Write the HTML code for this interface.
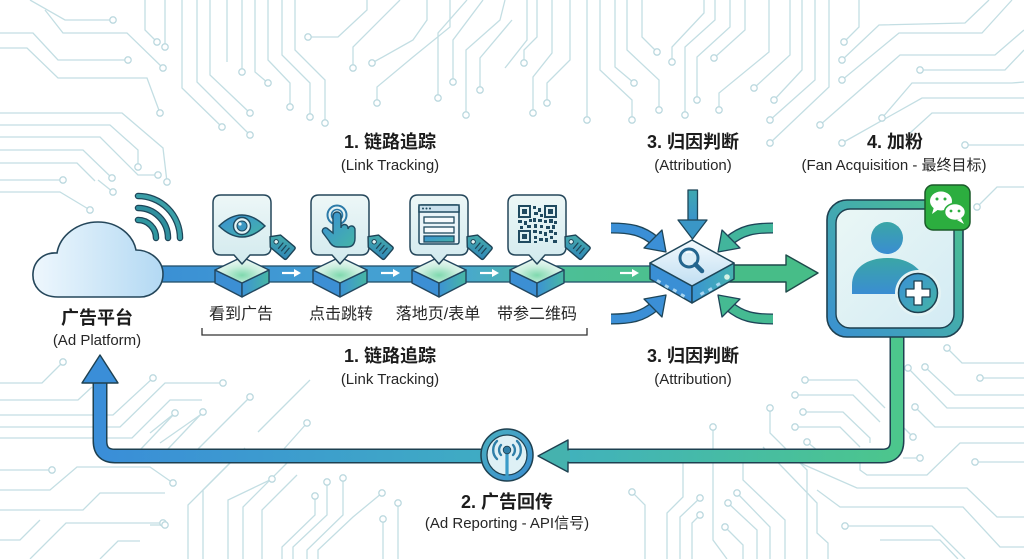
<!DOCTYPE html>
<html><head><meta charset="utf-8"><style>
html,body{margin:0;padding:0;background:#fff;}
svg{display:block;}
text{font-family:"Liberation Sans","Noto Sans CJK SC",sans-serif;fill:#1c1c1c;}
.b{font-weight:bold;font-size:18px;}
.s{font-size:15px;fill:#262626;}
.l{font-size:16px;fill:#262626;}
.tr polyline{fill:none;stroke:#c3dee3;stroke-width:1.3;}
.tc circle{fill:#fff;stroke:#bcd9df;stroke-width:1.3;}
</style></head><body>
<svg width="1024" height="559" viewBox="0 0 1024 559" xmlns="http://www.w3.org/2000/svg">
<defs>
<linearGradient id="pipeG" gradientUnits="userSpaceOnUse" x1="150" y1="0" x2="660" y2="0">
<stop offset="0" stop-color="#3a8fd4"/><stop offset="0.6" stop-color="#48a6d2"/><stop offset="0.82" stop-color="#4cbf96"/><stop offset="1" stop-color="#4cc08e"/></linearGradient>
<linearGradient id="retG" gradientUnits="userSpaceOnUse" x1="100" y1="0" x2="900" y2="0">
<stop offset="0" stop-color="#3a8ed8"/><stop offset="0.55" stop-color="#40b0c0"/><stop offset="1" stop-color="#4cc68c"/></linearGradient>
<linearGradient id="cloudG" x1="0" y1="0" x2="1" y2="0"><stop offset="0" stop-color="#eef7fd"/><stop offset="1" stop-color="#b3d9f3"/></linearGradient>
<linearGradient id="cardG" x1="0" y1="0" x2="0" y2="1"><stop offset="0" stop-color="#edf7f7"/><stop offset="1" stop-color="#d2eaee"/></linearGradient>
<radialGradient id="hexTop" cx="0.5" cy="0.7" r="0.6"><stop offset="0" stop-color="#7fd9ae"/><stop offset="0.55" stop-color="#c9eedd"/><stop offset="1" stop-color="#eef8f5"/></radialGradient>
<linearGradient id="hexR" x1="0" y1="0" x2="1" y2="0"><stop offset="0" stop-color="#3c92d4"/><stop offset="1" stop-color="#48b7a4"/></linearGradient>
<linearGradient id="tagG" x1="0" y1="0" x2="1" y2="1"><stop offset="0" stop-color="#49b0a8"/><stop offset="1" stop-color="#2f86b8"/></linearGradient>
<linearGradient id="blueTeal" x1="0" y1="0" x2="1" y2="1"><stop offset="0" stop-color="#3a8fd6"/><stop offset="1" stop-color="#45b5a6"/></linearGradient>
<linearGradient id="cubeTop" x1="0" y1="0" x2="0" y2="1"><stop offset="0" stop-color="#f4fafd"/><stop offset="1" stop-color="#c0def2"/></linearGradient>
<linearGradient id="cubeR" x1="0" y1="0" x2="1" y2="0"><stop offset="0" stop-color="#3a94d2"/><stop offset="1" stop-color="#46b3b0"/></linearGradient>
<linearGradient id="topArr" x1="0" y1="0" x2="0" y2="1"><stop offset="0" stop-color="#3fa8b0"/><stop offset="1" stop-color="#3a92cc"/></linearGradient>
<linearGradient id="fanB" x1="0" y1="1" x2="1" y2="0"><stop offset="0" stop-color="#3a90d2"/><stop offset="1" stop-color="#4cc38c"/></linearGradient>
<linearGradient id="fanIn" x1="0" y1="0" x2="1" y2="1"><stop offset="0" stop-color="#eaf7f5"/><stop offset="1" stop-color="#d3ebf4"/></linearGradient>
<linearGradient id="person" x1="0" y1="0" x2="0" y2="1"><stop offset="0" stop-color="#3aa6a6"/><stop offset="1" stop-color="#3a8dd2"/></linearGradient>
<linearGradient id="antG" x1="0" y1="0" x2="1" y2="1"><stop offset="0" stop-color="#4ab0c0"/><stop offset="1" stop-color="#3a8cd0"/></linearGradient>
</defs>
<rect width="1024" height="559" fill="#fff"/>

<!-- circuit traces -->
<g class="tr">
<polyline points="30,0 65,20 113,20"/>
<polyline points="0,33 33,33 58,60 128,60"/>
<polyline points="45,10 63,33 127,33 163,68"/>
<polyline points="0,48 27,48 58,78 147,78 160,113"/>
<polyline points="0,113 122,113 163,148 167,182"/>
<polyline points="0,125 110,125 138,150 138,167"/>
<polyline points="0,137 100,137 138,175 158,175"/>
<polyline points="0,150 83,150 112,178"/>
<polyline points="0,163 77,163 95,181"/>
<polyline points="0,180 63,180"/>
<polyline points="0,192 60,192 90,210"/>
<polyline points="98,180 113,192"/>
<polyline points="145,0 145,30 157,42"/>
<polyline points="165,0 165,47"/>
<polyline points="182,0 182,88 222,127"/>
<polyline points="197,0 197,82 250,135"/>
<polyline points="210,0 210,75 250,113"/>
<polyline points="227,0 227,62"/>
<polyline points="242,0 242,72"/>
<polyline points="255,0 255,72 268,83"/>
<polyline points="268,0 268,60 290,83 290,107"/>
<polyline points="282,0 282,55 310,83 310,117"/>
<polyline points="295,0 295,50 325,80 325,123"/>
<polyline points="367,0 367,10 338,37 308,37"/>
<polyline points="400,0 353,47 353,68"/>
<polyline points="427,0 427,20 413,40 372,63"/>
<polyline points="450,0 450,27 413,57 377,87 377,103"/>
<polyline points="467,0 438,33 438,98"/>
<polyline points="483,0 453,40 453,82"/>
<polyline points="505,0 500,20 466,50 466,115"/>
<polyline points="512,20 480,58 480,90"/>
<polyline points="505,68 527,40 527,0"/>
<polyline points="537,0 537,37 524,50 524,63"/>
<polyline points="552,0 552,53 533,77 533,113"/>
<polyline points="570,0 570,60 547,83 547,103"/>
<polyline points="587,0 587,120"/>
<polyline points="600,0 600,70 632,100 632,120"/>
<polyline points="615,0 615,67 634,83"/>
<polyline points="627,0 627,50 659,80 659,110"/>
<polyline points="642,0 642,37 657,52"/>
<polyline points="704,0 704,13 672,47 672,62"/>
<polyline points="715,0 715,20 685,47 685,115"/>
<polyline points="730,0 730,27 697,57 697,100"/>
<polyline points="745,0 745,30 714,58"/>
<polyline points="769,0 769,52 719,93 719,110"/>
<polyline points="790,0 790,55 754,88"/>
<polyline points="802,0 802,70 774,100"/>
<polyline points="815,0 815,80 770,120"/>
<polyline points="829,0 829,87 770,143"/>
<polyline points="859,0 859,27 844,42"/>
<polyline points="989,0 965,23 879,25 842,60"/>
<polyline points="1012,0 982,33 899,33 842,80"/>
<polyline points="1024,30 995,55 900,55 820,125"/>
<polyline points="920,70 1005,70 1024,50"/>
<polyline points="1024,82 1012,83 912,83 882,118"/>
<polyline points="1024,98 922,98 842,143"/>
<polyline points="1024,113 932,113 910,133"/>
<polyline points="965,145 1024,145"/>
<polyline points="977,207 997,187 1024,187"/>
<polyline points="947,348 962,363 1024,363"/>
<polyline points="980,378 1024,378"/>
<polyline points="925,367 955,395 1024,395"/>
<polyline points="908,368 947,408 1024,408"/>
<polyline points="915,407 935,427 1024,427"/>
<polyline points="913,437 893,417"/>
<polyline points="920,458 903,458"/>
<polyline points="975,462 1024,462"/>
<polyline points="860,463 860,470 867,475 927,475 960,443 1024,443"/>
<polyline points="800,463 857,488 967,488 997,517 1024,517"/>
<polyline points="817,490 840,507 963,507 1000,547 1024,547"/>
<polyline points="845,526 932,526 965,559"/>
<polyline points="880,540 940,540 958,559"/>
<polyline points="795,395 853,395 880,422"/>
<polyline points="803,412 843,412 870,438 870,443"/>
<polyline points="795,427 840,427 860,447"/>
<polyline points="807,442 817,450"/>
<polyline points="805,380 857,380 885,408"/>
<polyline points="713,427 713,540 727,559"/>
<polyline points="632,492 645,505 645,559"/>
<polyline points="700,498 680,517 680,559"/>
<polyline points="683,463 683,497 667,513 667,559"/>
<polyline points="700,515 692,523 692,559"/>
<polyline points="770,408 770,433 807,470 807,559"/>
<polyline points="743,463 743,480 785,520 785,559"/>
<polyline points="728,503 757,530 757,559"/>
<polyline points="737,493 770,527 770,559"/>
<polyline points="725,527 743,545 743,559"/>
<polyline points="763,447 817,503 817,533 828,543 828,559"/>
<polyline points="63,362 42,383 0,383"/>
<polyline points="0,400 78,400 92,387"/>
<polyline points="0,415 113,415 153,378"/>
<polyline points="0,427 120,427 165,383 223,383"/>
<polyline points="0,438 132,438 170,400 202,400"/>
<polyline points="140,450 175,413"/>
<polyline points="167,450 203,412"/>
<polyline points="197,450 250,397"/>
<polyline points="283,450 307,423"/>
<polyline points="0,470 52,470"/>
<polyline points="0,490 50,490 77,467 150,467 173,483"/>
<polyline points="0,510 83,510 100,493 165,493"/>
<polyline points="30,559 66,523 163,523"/>
<polyline points="0,540 20,540 40,520"/>
<polyline points="100,559 118,541 140,541"/>
<polyline points="150,525 165,525"/>
<polyline points="188,559 188,505 230,463"/>
<polyline points="203,559 203,490 245,448"/>
<polyline points="228,559 228,500 272,479"/>
<polyline points="243,559 243,507 287,463"/>
<polyline points="262,559 262,510 297,475"/>
<polyline points="282,559 282,547 315,515 315,496"/>
<polyline points="293,559 293,547 327,515 327,482"/>
<polyline points="307,559 307,550 343,515 343,478"/>
<polyline points="318,559 318,550 353,517 382,493"/>
<polyline points="383,519 383,559"/>
<polyline points="398,503 398,559"/>
<polyline points="150,433 175,413"/>
<polyline points="160,443 203,413"/>
<polyline points="258,432 310,380"/>
</g>
<g class="tc">
<circle cx="113" cy="20" r="3.2"/><circle cx="128" cy="60" r="3.2"/><circle cx="163" cy="68" r="3.2"/><circle cx="160" cy="113" r="3.2"/><circle cx="167" cy="182" r="3.2"/><circle cx="138" cy="167" r="3.2"/><circle cx="158" cy="175" r="3.2"/><circle cx="112" cy="178" r="3.2"/><circle cx="63" cy="180" r="3.2"/><circle cx="90" cy="210" r="3.2"/><circle cx="113" cy="192" r="3.2"/>
<circle cx="157" cy="42" r="3.2"/><circle cx="165" cy="47" r="3.2"/><circle cx="222" cy="127" r="3.2"/><circle cx="250" cy="135" r="3.2"/><circle cx="250" cy="113" r="3.2"/><circle cx="242" cy="72" r="3.2"/><circle cx="268" cy="83" r="3.2"/><circle cx="290" cy="107" r="3.2"/><circle cx="310" cy="117" r="3.2"/><circle cx="325" cy="123" r="3.2"/><circle cx="308" cy="37" r="3.2"/><circle cx="353" cy="68" r="3.2"/><circle cx="372" cy="63" r="3.2"/><circle cx="377" cy="103" r="3.2"/><circle cx="438" cy="98" r="3.2"/><circle cx="453" cy="82" r="3.2"/><circle cx="466" cy="115" r="3.2"/><circle cx="480" cy="90" r="3.2"/>
<circle cx="524" cy="63" r="3.2"/><circle cx="533" cy="113" r="3.2"/><circle cx="547" cy="103" r="3.2"/><circle cx="587" cy="120" r="3.2"/><circle cx="632" cy="120" r="3.2"/><circle cx="634" cy="83" r="3.2"/><circle cx="659" cy="110" r="3.2"/><circle cx="657" cy="52" r="3.2"/><circle cx="672" cy="62" r="3.2"/><circle cx="685" cy="115" r="3.2"/><circle cx="697" cy="100" r="3.2"/><circle cx="714" cy="58" r="3.2"/><circle cx="719" cy="110" r="3.2"/><circle cx="754" cy="88" r="3.2"/><circle cx="774" cy="100" r="3.2"/><circle cx="770" cy="120" r="3.2"/><circle cx="770" cy="143" r="3.2"/><circle cx="844" cy="42" r="3.2"/><circle cx="842" cy="60" r="3.2"/><circle cx="842" cy="80" r="3.2"/><circle cx="820" cy="125" r="3.2"/><circle cx="920" cy="70" r="3.2"/><circle cx="882" cy="118" r="3.2"/><circle cx="842" cy="143" r="3.2"/><circle cx="965" cy="145" r="3.2"/>
<circle cx="977" cy="207" r="3.2"/><circle cx="947" cy="348" r="3.2"/><circle cx="980" cy="378" r="3.2"/><circle cx="925" cy="367" r="3.2"/><circle cx="908" cy="368" r="3.2"/><circle cx="915" cy="407" r="3.2"/><circle cx="913" cy="437" r="3.2"/><circle cx="920" cy="458" r="3.2"/><circle cx="975" cy="462" r="3.2"/><circle cx="845" cy="526" r="3.2"/><circle cx="795" cy="395" r="3.2"/><circle cx="803" cy="412" r="3.2"/><circle cx="795" cy="427" r="3.2"/><circle cx="807" cy="442" r="3.2"/><circle cx="805" cy="380" r="3.2"/>
<circle cx="713" cy="427" r="3.2"/><circle cx="632" cy="492" r="3.2"/><circle cx="700" cy="498" r="3.2"/><circle cx="700" cy="515" r="3.2"/><circle cx="770" cy="408" r="3.2"/><circle cx="728" cy="503" r="3.2"/><circle cx="737" cy="493" r="3.2"/><circle cx="725" cy="527" r="3.2"/>
<circle cx="63" cy="362" r="3.2"/><circle cx="153" cy="378" r="3.2"/><circle cx="223" cy="383" r="3.2"/><circle cx="175" cy="413" r="3.2"/><circle cx="203" cy="412" r="3.2"/><circle cx="250" cy="397" r="3.2"/><circle cx="307" cy="423" r="3.2"/><circle cx="52" cy="470" r="3.2"/><circle cx="173" cy="483" r="3.2"/><circle cx="163" cy="523" r="3.2"/><circle cx="165" cy="525" r="3.2"/><circle cx="272" cy="479" r="3.2"/><circle cx="315" cy="496" r="3.2"/><circle cx="327" cy="482" r="3.2"/><circle cx="343" cy="478" r="3.2"/><circle cx="382" cy="493" r="3.2"/><circle cx="383" cy="519" r="3.2"/><circle cx="398" cy="503" r="3.2"/>
</g>

<!-- main pipe -->
<rect x="150" y="266" width="512" height="16" fill="url(#pipeG)" stroke="#24506a" stroke-width="1.3"/>

<!-- white arrows on pipe -->
<g stroke="#fff" stroke-width="2.2" fill="#fff">
<line x1="282" y1="273" x2="295" y2="273"/><polygon points="301,273 294,269 294,277" stroke="none"/>
<line x1="381" y1="273" x2="394" y2="273"/><polygon points="400,273 393,269 393,277" stroke="none"/>
<line x1="480" y1="273" x2="493" y2="273"/><polygon points="499,273 492,269 492,277" stroke="none"/>
<line x1="620" y1="273" x2="633" y2="273"/><polygon points="639,273 632,269 632,277" stroke="none"/>
</g>

<!-- hex nodes -->
<g stroke="#22465e" stroke-width="1.4" stroke-linejoin="round">
<g id="hx1">
<path d="M215 270 L215 283 L242 297 L242 283 Z" fill="#3c8fd4"/>
<path d="M242 283 L242 297 L269 283 L269 270 Z" fill="url(#hexR)"/>
<path d="M215 270 L242 257 L269 270 L242 283 Z" fill="url(#hexTop)"/>
</g>
<use href="#hx1" x="98"/>
<use href="#hx1" x="197"/>
<use href="#hx1" x="295"/>
</g>

<!-- cards -->
<g stroke="#24465a" stroke-width="1.5" stroke-linejoin="round">
<path d="M221 195 H263 Q271 195 271 203 V247 Q271 255 263 255 H250 L242 264 L234 255 H221 Q213 255 213 247 V203 Q213 195 221 195 Z" fill="url(#cardG)"/>
<path d="M319 195 H361 Q369 195 369 203 V247 Q369 255 361 255 H348 L340 264 L332 255 H319 Q311 255 311 247 V203 Q311 195 319 195 Z" fill="url(#cardG)"/>
<path d="M418 195 H460 Q468 195 468 203 V247 Q468 255 460 255 H447 L439 264 L431 255 H418 Q410 255 410 247 V203 Q410 195 418 195 Z" fill="url(#cardG)"/>
<path d="M516 195 H558 Q566 195 566 203 V247 Q566 255 558 255 H545 L537 264 L529 255 H516 Q508 255 508 247 V203 Q508 195 516 195 Z" fill="url(#cardG)"/>
</g>

<!-- eye icon -->
<path d="M219 226 Q242 204 265 226 Q242 248 219 226 Z" fill="url(#blueTeal)" stroke="#1f4a60" stroke-width="1.5"/>
<circle cx="242" cy="226" r="8.5" fill="#e4f4f6" stroke="#1f4a60" stroke-width="1.4"/>
<circle cx="242" cy="226" r="5" fill="#3d98c2" stroke="#1f4a60" stroke-width="1"/>
<circle cx="240" cy="224" r="1.6" fill="#e8f6f8"/>

<!-- hand icon -->
<circle cx="337" cy="215" r="9.5" fill="none" stroke="#2b7aa8" stroke-width="2"/>
<circle cx="337" cy="215" r="5.5" fill="none" stroke="#2b7aa8" stroke-width="1.6"/>
<path d="M333 216 a4 4 0 0 1 8 0 L341 228 a3.5 3.5 0 0 1 7 0 L348 229 a3.5 3.5 0 0 1 7 1 L355 238 Q355 247 347 247 L338 247 Q332 247 329 241 L323 233 a3 3 0 0 1 5 -4 L333 233 Z" fill="url(#blueTeal)" stroke="#1f4a60" stroke-width="1.4"/>

<!-- browser icon -->
<rect x="419" y="205" width="40" height="39" rx="2" fill="#e9f4f8" stroke="#1f4a60" stroke-width="1.5"/>
<rect x="419" y="205" width="40" height="7" fill="#c9e0ec" stroke="#1f4a60" stroke-width="1.5"/>
<circle cx="423" cy="208.5" r="1" fill="#1f4a60"/><circle cx="426.5" cy="208.5" r="1" fill="#1f4a60"/><circle cx="430" cy="208.5" r="1" fill="#1f4a60"/>
<rect x="424" y="217" width="30" height="6" fill="#f7fbfd" stroke="#1f4a60" stroke-width="1.3"/>
<rect x="424" y="227" width="30" height="6" fill="#f7fbfd" stroke="#1f4a60" stroke-width="1.3"/>
<rect x="424" y="236" width="30" height="6" fill="url(#blueTeal)" stroke="#1f4a60" stroke-width="1.3"/>

<!-- QR icon -->
<g fill="#1f4a60">
<rect x="519" y="206" width="11" height="11" fill="none" stroke="#1f4a60" stroke-width="2"/><rect x="522" y="209" width="5" height="5"/>
<rect x="545" y="206" width="11" height="11" fill="none" stroke="#1f4a60" stroke-width="2"/><rect x="548" y="209" width="5" height="5"/>
<rect x="519" y="231" width="11" height="11" fill="none" stroke="#1f4a60" stroke-width="2"/><rect x="522" y="234" width="5" height="5"/>
<rect x="533" y="206" width="3" height="3"/><rect x="538" y="208" width="3" height="4"/><rect x="534" y="212" width="4" height="3"/><rect x="540" y="214" width="3" height="3"/>
<rect x="518" y="220" width="4" height="3"/><rect x="524" y="221" width="3" height="4"/><rect x="529" y="219" width="3" height="3"/><rect x="533" y="218" width="3" height="4"/><rect x="538" y="219" width="4" height="3"/><rect x="544" y="220" width="3" height="3"/><rect x="549" y="219" width="4" height="4"/><rect x="554" y="221" width="3" height="3"/>
<rect x="520" y="226" width="3" height="3"/><rect x="527" y="225" width="4" height="3"/><rect x="534" y="224" width="3" height="4"/><rect x="540" y="225" width="3" height="3"/><rect x="546" y="226" width="4" height="3"/><rect x="552" y="225" width="3" height="4"/>
<rect x="533" y="230" width="4" height="3"/><rect x="539" y="231" width="3" height="3"/><rect x="544" y="232" width="3" height="4"/><rect x="549" y="230" width="4" height="3"/><rect x="554" y="232" width="3" height="3"/>
<rect x="534" y="236" width="3" height="3"/><rect x="539" y="238" width="4" height="3"/><rect x="545" y="238" width="3" height="4"/><rect x="550" y="236" width="3" height="3"/><rect x="553" y="240" width="4" height="3"/><rect x="534" y="241" width="3" height="2"/>
</g>

<!-- tags -->
<g id="tag1" transform="translate(280,245) rotate(40)">
<path d="M-13 0 L-6 -8 L12 -8 Q14 -8 14 -6 L14 6 Q14 8 12 8 L-6 8 Z" fill="url(#tagG)" stroke="#1d4356" stroke-width="1.4" stroke-linejoin="round"/>
<circle cx="-5" cy="0" r="2.2" fill="#e4f4f5" stroke="#1d4356" stroke-width="1"/>
<g stroke="#1d4356" stroke-width="1.2"><line x1="1" y1="-4" x2="1" y2="4"/><line x1="5" y1="-4" x2="5" y2="4"/><line x1="9" y1="-4" x2="9" y2="4"/></g>
</g>
<use href="#tag1" x="98"/>
<use href="#tag1" x="197"/>
<use href="#tag1" x="295"/>

<!-- output arrow -->
<polygon points="725,265 786,265 786,255 818,273 786,292 786,282 725,282" fill="#47bd88" stroke="#1e4a4a" stroke-width="1.4" stroke-linejoin="round"/>

<!-- curved arrows -->
<g fill="none" stroke-linecap="butt">
<path d="M611 228 C630 228 642 230 655 241" stroke="#1e4558" stroke-width="11"/>
<path d="M611 228 C630 228 642 230 655 241" stroke="#3b8fd6" stroke-width="8.4"/>
<path d="M773 228 C754 228 742 230 729 241" stroke="#1e4558" stroke-width="11"/>
<path d="M773 228 C754 228 742 230 729 241" stroke="#42b59c" stroke-width="8.4"/>
<path d="M611 319 C630 319 642 317 655 306" stroke="#1e4558" stroke-width="11"/>
<path d="M611 319 C630 319 642 317 655 306" stroke="#3b8fd6" stroke-width="8.4"/>
<path d="M773 319 C754 319 742 317 729 306" stroke="#1e4558" stroke-width="11"/>
<path d="M773 319 C754 319 742 317 729 306" stroke="#45ba92" stroke-width="8.4"/>
</g>
<g stroke="#1e4558" stroke-width="1.3" stroke-linejoin="round">
<polygon points="666,252 662,230 644,248" fill="#3b8fd6"/>
<polygon points="718,252 722,230 740,248" fill="#42b59c"/>
<polygon points="666,295 662,317 644,299" fill="#3b8fd6"/>
<polygon points="718,295 722,317 740,299" fill="#45ba92"/>
<rect x="688" y="190" width="9.5" height="32" fill="url(#topArr)"/>
<polygon points="678,220 707,220 692.5,239" fill="#3a96c6"/>
</g>

<!-- cube -->
<g stroke="#1e4558" stroke-width="1.5" stroke-linejoin="round">
<path d="M650 263 L650 279 L692 303 L692 286 Z" fill="#3a8fd5"/>
<path d="M692 286 L692 303 L734 279 L734 263 Z" fill="url(#cubeR)"/>
<path d="M650 263 L692 240 L734 263 L692 286 Z" fill="url(#cubeTop)"/>
</g>
<g fill="#a9d6f2">
<rect x="657" y="280" width="4" height="3" transform="rotate(30 659 281)"/>
<rect x="665" y="285" width="4" height="3" transform="rotate(30 667 286)"/>
<rect x="673" y="289" width="4" height="3" transform="rotate(30 675 290)"/>
<rect x="681" y="294" width="4" height="3" transform="rotate(30 683 295)"/>
<rect x="700" y="292" width="4" height="3" transform="rotate(-30 702 293)"/>
<rect x="708" y="288" width="4" height="3" transform="rotate(-30 710 289)"/>
<rect x="716" y="283" width="4" height="3" transform="rotate(-30 718 284)"/>
<circle cx="727" cy="277" r="2.8" fill="#d6f2e6"/>
</g>
<circle cx="689" cy="258" r="9" fill="#dceef8" stroke="#24658e" stroke-width="3"/>
<path d="M686 253 A5 5 0 0 1 692 253" fill="none" stroke="#fff" stroke-width="1.5"/>
<line x1="695.5" y1="264.5" x2="702" y2="271" stroke="#24658e" stroke-width="4.5" stroke-linecap="round"/>

<!-- cloud -->
<path d="M58 297 C40 297 32 285 33 273 C34 260 45 252 57 253 C60 235 78 222 98 222 C118 222 133 235 136 250 C150 250 163 260 163 274 C163 288 152 297 140 297 Z" fill="url(#cloudG)" stroke="#24465a" stroke-width="1.6"/>
<!-- wifi -->
<g fill="none" stroke-linecap="round">
<path d="M138 220 A18 18 0 0 1 156 238" stroke="#1e4558" stroke-width="6.5"/>
<path d="M138 220 A18 18 0 0 1 156 238" stroke="#2f97a0" stroke-width="4"/>
<path d="M138 208 A30 30 0 0 1 168 238" stroke="#1e4558" stroke-width="6.5"/>
<path d="M138 208 A30 30 0 0 1 168 238" stroke="#2f8f9e" stroke-width="4"/>
<path d="M138 196 A42 42 0 0 1 180 238" stroke="#1e4558" stroke-width="6.5"/>
<path d="M138 196 A42 42 0 0 1 180 238" stroke="#3a9fa8" stroke-width="4"/>
</g>

<!-- return pipe -->
<g fill="none" stroke-linejoin="round">
<path d="M897 330 L897 441 Q897 456 882 456 L566 456" stroke="#1e4050" stroke-width="15"/>
<path d="M897 330 L897 441 Q897 456 882 456 L566 456" stroke="url(#retG)" stroke-width="12"/>
<path d="M484 456 L115 456 Q100 456 100 441 L100 380" stroke="#1e4050" stroke-width="15"/>
<path d="M484 456 L115 456 Q100 456 100 441 L100 380" stroke="url(#retG)" stroke-width="12"/>
</g>
<polygon points="100,355 82,383 118,383" fill="#3a8ed8" stroke="#1e4050" stroke-width="1.4" stroke-linejoin="round"/>
<polygon points="538,456 568,440 568,472" fill="#45b2ae" stroke="#1e4050" stroke-width="1.4" stroke-linejoin="round"/>
<rect x="566" y="450.5" width="4" height="11" fill="#45b2ae"/>

<!-- antenna -->
<circle cx="507" cy="455" r="26" fill="url(#antG)" stroke="#1e4050" stroke-width="1.5"/>
<circle cx="507" cy="455" r="20" fill="#def0f5" stroke="#1e4050" stroke-width="1.2"/>
<line x1="507" y1="452" x2="507" y2="480" stroke="#3a9bc8" stroke-width="3.2"/>
<circle cx="507" cy="450" r="3.8" fill="#2f7fa8" stroke="#1e4050" stroke-width="0.8"/>
<g fill="none" stroke="#2f7fa8" stroke-width="2.4" stroke-linecap="round">
<path d="M501 445 A7.5 7.5 0 0 0 501 455"/><path d="M513 445 A7.5 7.5 0 0 1 513 455"/>
<path d="M497 441 A12.5 12.5 0 0 0 497 459"/><path d="M517 441 A12.5 12.5 0 0 1 517 459"/>
</g>

<!-- fan box -->
<rect x="827" y="200" width="136" height="137" rx="20" fill="url(#fanB)" stroke="#1e4050" stroke-width="1.6"/>
<rect x="836" y="209" width="118" height="119" rx="14" fill="url(#fanIn)" stroke="#1e4050" stroke-width="1.4"/>
<circle cx="887" cy="238" r="16" fill="url(#person)"/>
<path d="M852 294 L852 285 C852 268 867 258 887 258 C905 258 917 265 923 276 L912 294 Z" fill="url(#person)"/>
<circle cx="918" cy="293" r="23" fill="#e4f3f4"/>
<circle cx="918" cy="293" r="19.5" fill="url(#blueTeal)" stroke="#1e4050" stroke-width="1.5"/>
<path d="M914 281 H922 V289 H930 V297 H922 V305 H914 V297 H906 V289 H914 Z" fill="#fff" stroke="#1e4050" stroke-width="1.3" stroke-linejoin="round"/>

<!-- wechat badge -->
<rect x="925" y="185" width="45" height="45" rx="8" fill="#2cae3f" stroke="#1b5a2a" stroke-width="1.5"/>
<ellipse cx="941" cy="201" rx="11" ry="9.5" fill="#fff"/>
<polygon points="934,207 932,214 939,209" fill="#fff"/>
<circle cx="937" cy="199" r="1.5" fill="#2cae3f"/><circle cx="945" cy="199" r="1.5" fill="#2cae3f"/>
<ellipse cx="955" cy="212" rx="10.5" ry="8.5" fill="#fff" stroke="#2cae3f" stroke-width="1.6"/>
<polygon points="961,218 964,224 957,220" fill="#fff"/>
<circle cx="951" cy="211" r="1.4" fill="#2cae3f"/><circle cx="959" cy="211" r="1.4" fill="#2cae3f"/>

<!-- bracket -->
<path d="M202 328 L202 335 L587 335 L587 328" fill="none" stroke="#333" stroke-width="1.3"/>

<!-- texts -->
<text class="b" x="390" y="148" text-anchor="middle">1. 链路追踪</text>
<text class="s" x="390" y="170" text-anchor="middle">(Link Tracking)</text>
<text class="b" x="693" y="148" text-anchor="middle">3. 归因判断</text>
<text class="s" x="693" y="170" text-anchor="middle">(Attribution)</text>
<text class="b" x="895" y="148" text-anchor="middle">4. 加粉</text>
<text class="s" x="894" y="170" text-anchor="middle">(Fan Acquisition - 最终目标)</text>
<text class="b" x="97" y="324" text-anchor="middle">广告平台</text>
<text class="s" x="97" y="345" text-anchor="middle">(Ad Platform)</text>
<text class="l" x="241" y="319" text-anchor="middle">看到广告</text>
<text class="l" x="341" y="319" text-anchor="middle">点击跳转</text>
<text class="l" x="438" y="319" text-anchor="middle">落地页/表单</text>
<text class="l" x="537" y="319" text-anchor="middle">带参二维码</text>
<text class="b" x="390" y="362" text-anchor="middle">1. 链路追踪</text>
<text class="s" x="390" y="384" text-anchor="middle">(Link Tracking)</text>
<text class="b" x="693" y="362" text-anchor="middle">3. 归因判断</text>
<text class="s" x="693" y="384" text-anchor="middle">(Attribution)</text>
<text class="b" x="507" y="508" text-anchor="middle">2. 广告回传</text>
<text class="s" x="507" y="528" text-anchor="middle">(Ad Reporting - API信号)</text>
</svg>
</body></html>
